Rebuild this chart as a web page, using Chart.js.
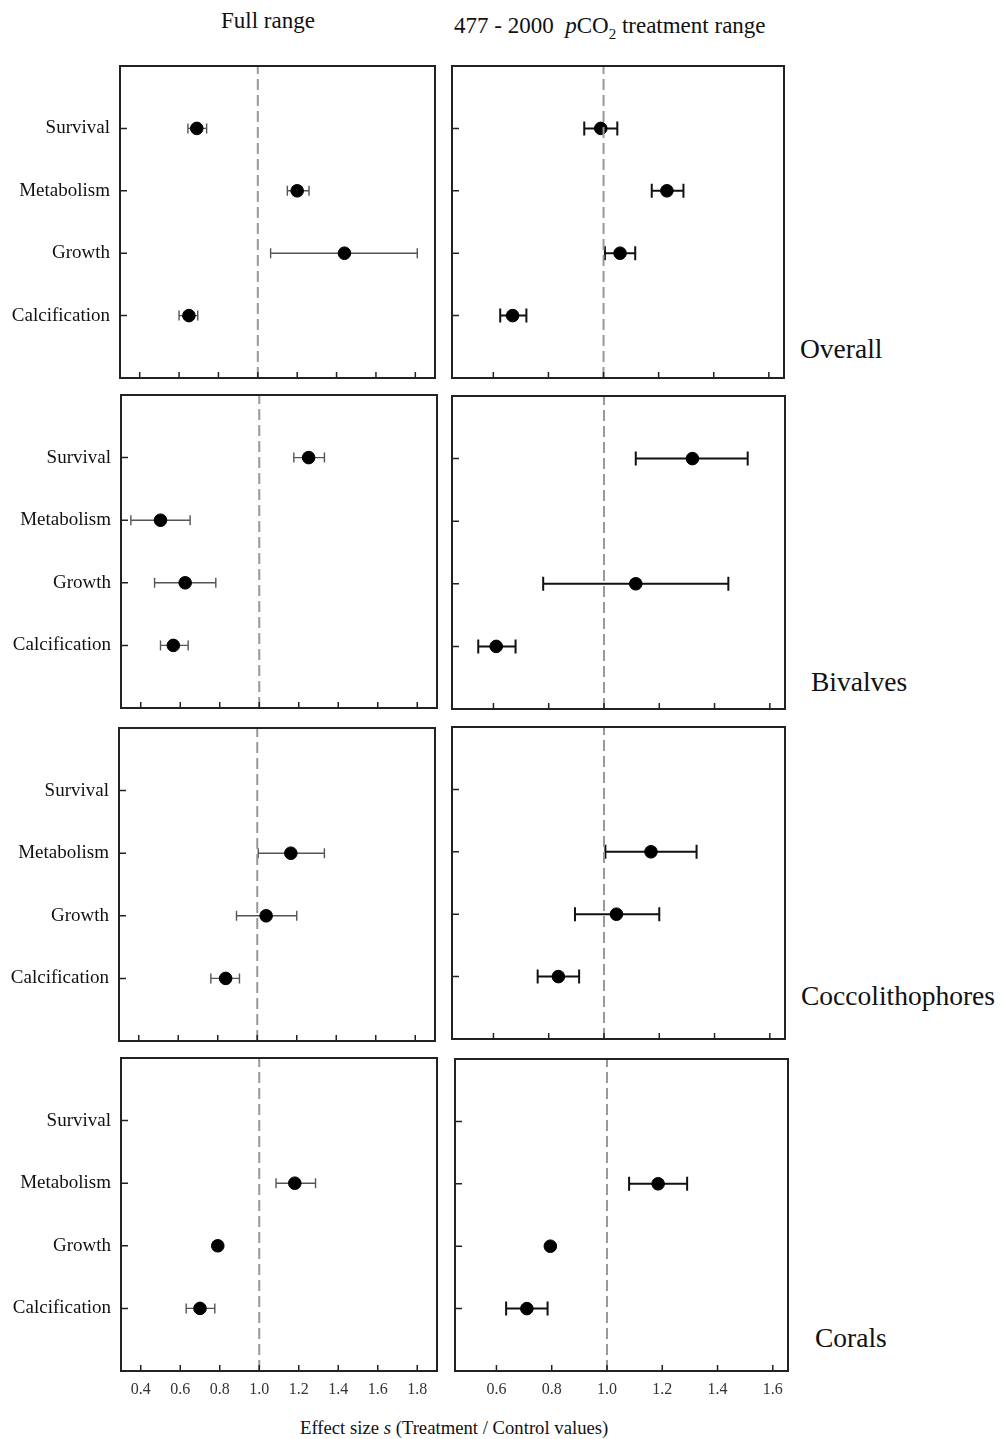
<!DOCTYPE html>
<html>
<head>
<meta charset="utf-8">
<script src="https://cdn.jsdelivr.net/npm/chart.js@4.4.0/dist/chart.umd.min.js"></script>
<style>
  body { margin: 0; background: #fff; }
  #fig { position: relative; width: 1002px; height: 1439px; font-family: "Liberation Serif", "Times New Roman", serif; color: #111; }
  .pane { position: absolute; }
  .txt { position: absolute; white-space: nowrap; line-height: 1; }
</style>
</head>
<body>
<div id="fig">
  <div class="txt" style="left:221px;top:9px;font-size:23px">Full range</div>
  <div class="txt" style="left:454px;top:14px;font-size:23px">477 - 2000&nbsp; <i>p</i>CO<sub style="font-size:15px">2</sub> treatment range</div>
  <div class="txt" style="left:800px;top:335px;font-size:27.5px">Overall</div>
  <div class="txt" style="left:811px;top:668px;font-size:27.5px">Bivalves</div>
  <div class="txt" style="left:801px;top:982px;font-size:27.5px">Coccolithophores</div>
  <div class="txt" style="left:815px;top:1324px;font-size:27.5px">Corals</div>
  <div class="txt" style="left:300px;top:1419px;font-size:18.7px">Effect size <i>s</i> (Treatment / Control values)</div>
</div>
<script>
// categories, top to bottom
const categories = ["Survival", "Metabolism", "Growth", "Calcification"];
const categoryY = [4, 3, 2, 1];
const groups = ["Overall", "Bivalves", "Coccolithophores", "Corals"];

// x axis ticks
const fullTicks = [0.4, 0.6, 0.8, 1.0, 1.2, 1.4, 1.6, 1.8];
const treatTicks = [0.6, 0.8, 1.0, 1.2, 1.4, 1.6];
const refValue = 1.0;

// full range: mean, lower and upper limits (Survival, Metabolism, Growth, Calcification)
const overallFullMean = [0.69, 1.20, 1.44, 0.65];
const overallFullLow = [0.645, 1.15, 1.065, 0.60];
const overallFullHigh = [0.74, 1.26, 1.81, 0.695];
const bivalvesFullMean = [1.25, 0.50, 0.625, 0.565];
const bivalvesFullLow = [1.175, 0.35, 0.47, 0.50];
const bivalvesFullHigh = [1.33, 0.65, 0.78, 0.64];
const coccoFullMean = [null, 1.17, 1.045, 0.84];
const coccoFullLow = [null, 1.005, 0.895, 0.765];
const coccoFullHigh = [null, 1.34, 1.20, 0.91];
const coralsFullMean = [null, 1.18, 0.79, 0.70];
const coralsFullLow = [null, 1.085, null, 0.63];
const coralsFullHigh = [null, 1.285, null, 0.775];

// 477 - 2000 pCO2 treatment range
const overallTreatMean = [0.99, 1.23, 1.06, 0.67];
const overallTreatLow = [0.93, 1.175, 1.005, 0.625];
const overallTreatHigh = [1.05, 1.29, 1.115, 0.72];
const bivalvesTreatMean = [1.32, null, 1.115, 0.61];
const bivalvesTreatLow = [1.115, null, 0.78, 0.545];
const bivalvesTreatHigh = [1.52, null, 1.45, 0.68];
const coccoTreatMean = [null, 1.17, 1.045, 0.835];
const coccoTreatLow = [null, 1.005, 0.895, 0.76];
const coccoTreatHigh = [null, 1.335, 1.20, 0.91];
const coralsTreatMean = [null, 1.185, 0.795, 0.71];
const coralsTreatLow = [null, 1.08, null, 0.635];
const coralsTreatHigh = [null, 1.29, null, 0.785];

const series = [
  [[overallFullMean, overallFullLow, overallFullHigh], [overallTreatMean, overallTreatLow, overallTreatHigh]],
  [[bivalvesFullMean, bivalvesFullLow, bivalvesFullHigh], [bivalvesTreatMean, bivalvesTreatLow, bivalvesTreatHigh]],
  [[coccoFullMean, coccoFullLow, coccoFullHigh], [coccoTreatMean, coccoTreatLow, coccoTreatHigh]],
  [[coralsFullMean, coralsFullLow, coralsFullHigh], [coralsTreatMean, coralsTreatLow, coralsTreatHigh]]
];

// plot boxes [left, right, top, bottom] per row, per column
const boxes = [
  [[120, 435, 66, 378], [452, 784, 66, 378]],
  [[121, 437, 395, 708], [452, 785, 396, 709]],
  [[119, 435, 728, 1041], [452, 785, 727, 1039]],
  [[121, 437, 1058, 1371], [455, 788, 1059, 1371]]
];

const panelDecor = {
  id: "panelDecor",
  beforeDatasetsDraw(chart, args, opts) {
    const ctx = chart.ctx;
    const x = chart.scales.x, y = chart.scales.y;
    const ds = chart.data.datasets[1];
    ctx.save();
    ctx.strokeStyle = opts.barColor;
    ctx.lineWidth = opts.barWidth;
    ds.low.forEach((lo, i) => {
      const hi = ds.high[i];
      if (lo == null || hi == null) return;
      const py = y.getPixelForValue(ds.rows[i]);
      const a = x.getPixelForValue(lo), b = x.getPixelForValue(hi);
      ctx.beginPath();
      ctx.moveTo(a, py); ctx.lineTo(b, py);
      ctx.moveTo(a, py - opts.cap); ctx.lineTo(a, py + opts.cap);
      ctx.moveTo(b, py - opts.cap); ctx.lineTo(b, py + opts.cap);
      ctx.stroke();
    });
    ctx.restore();
  },
  afterDraw(chart, args, opts) {
    const ctx = chart.ctx;
    const area = chart.chartArea;
    const x = chart.scales.x, y = chart.scales.y;
    ctx.save();
    ctx.strokeStyle = "#222";
    ctx.lineWidth = 1.5;
    ctx.beginPath();
    x.ticks.forEach(t => {
      const px = x.getPixelForValue(t.value);
      ctx.moveTo(px, area.bottom); ctx.lineTo(px, area.bottom - 6);
    });
    y.ticks.forEach(t => {
      const py = y.getPixelForValue(t.value);
      ctx.moveTo(area.left, py); ctx.lineTo(area.left + 7, py);
    });
    ctx.stroke();
    ctx.lineWidth = 2;
    ctx.strokeRect(area.left, area.top, area.right - area.left, area.bottom - area.top);
    ctx.restore();
  }
};

const fig = document.getElementById("fig");

boxes.forEach((rowBoxes, r) => {
  rowBoxes.forEach((box, c) => {
    const [x1, x2, y1, y2] = box;
    const isLeft = c === 0, isBottom = r === 3;
    const left = isLeft ? 0 : x1 - 12;
    const top = y1 - 4;
    const W = x2 + 4 - left;
    const xAxisH = isBottom ? 34 : 4;
    const H = (y2 - top) + xAxisH;
    const yAxisW = x1 - left;

    const div = document.createElement("div");
    div.className = "pane";
    div.style.left = left + "px";
    div.style.top = top + "px";
    const canvas = document.createElement("canvas");
    canvas.width = W; canvas.height = H;
    canvas.style.width = W + "px"; canvas.style.height = H + "px";
    div.appendChild(canvas);
    fig.appendChild(div);

    const [mean, low, high] = series[r][c];
    const ticks = isLeft ? fullTicks : treatTicks;
    const points = [];
    mean.forEach((m, i) => { if (m != null) points.push({ x: m, y: categoryY[i] }); });

    new Chart(canvas, {
      data: {
        datasets: [
          {
            type: "line",
            data: [{ x: refValue, y: 0 }, { x: refValue, y: 5 }],
            borderColor: "#999",
            borderWidth: 2,
            borderDash: [11, 5],
            pointRadius: 0
          },
          {
            type: "scatter",
            data: points,
            low: low,
            high: high,
            rows: categoryY,
            backgroundColor: "#000",
            borderColor: "#000",
            pointRadius: 6.3,
            pointHoverRadius: 6.3
          }
        ]
      },
      options: {
        responsive: false,
        animation: false,
        events: [],
        layout: { autoPadding: false, padding: { top: 4, right: 4, left: 0, bottom: 0 } },
        plugins: {
          legend: { display: false },
          tooltip: { enabled: false },
          panelDecor: {
            barColor: isLeft ? "#555" : "#111",
            barWidth: isLeft ? 1.4 : 2,
            cap: isLeft ? 5 : 7
          }
        },
        scales: {
          x: {
            type: "linear",
            min: isLeft ? 0.3 : 0.45,
            max: isLeft ? 1.9 : 1.655,
            grid: { display: false, drawTicks: false },
            border: { display: false },
            afterBuildTicks: (s) => { s.ticks = ticks.map(v => ({ value: v })); },
            afterFit: (s) => { s.height = xAxisH; s.paddingLeft = 0; s.paddingRight = 0; },
            ticks: {
              display: isBottom,
              padding: 9,
              color: "#333",
              font: { family: "Liberation Serif", size: 16 },
              callback: (v) => Number(v).toFixed(1)
            }
          },
          y: {
            type: "linear",
            min: 0,
            max: 5,
            grid: { display: false, drawTicks: false },
            border: { display: false },
            afterBuildTicks: (s) => { s.ticks = categoryY.map(v => ({ value: v })); },
            afterFit: (s) => { s.width = yAxisW; s.paddingTop = 0; s.paddingBottom = 0; },
            ticks: {
              display: isLeft,
              padding: 10,
              color: "#111",
              font: { family: "Liberation Serif", size: 19 },
              callback: (v) => categories[categoryY.indexOf(v)]
            }
          }
        }
      },
      plugins: [panelDecor]
    });
  });
});
</script>
</body>
</html>
